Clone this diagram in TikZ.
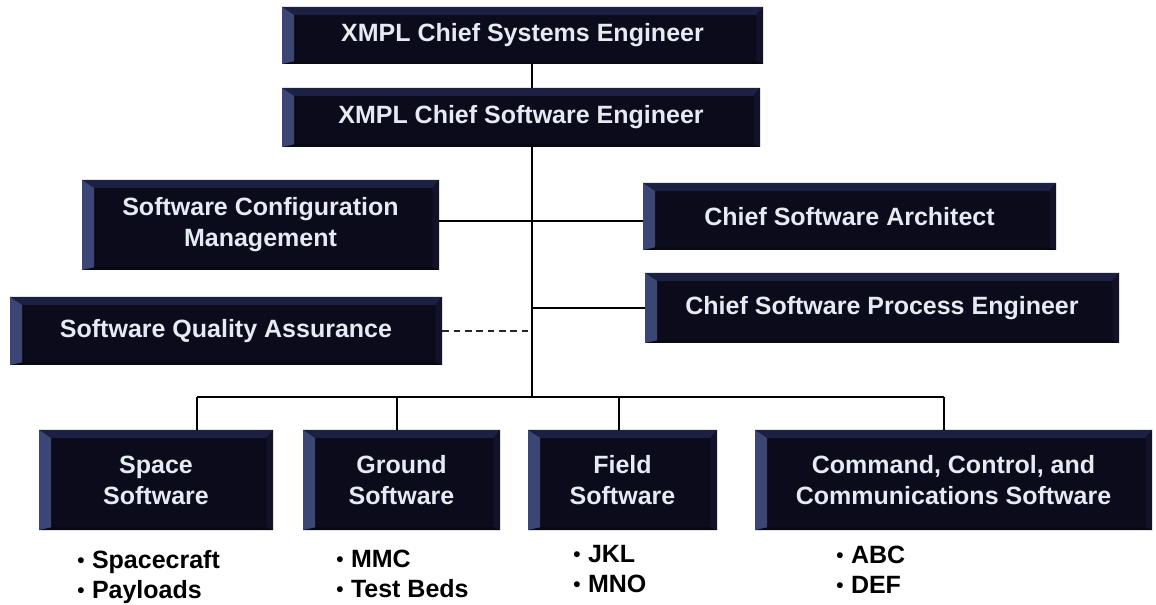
\documentclass[tikz,border=0pt]{standalone}
\usepackage{fontspec}
\setmainfont{Liberation Sans}
\definecolor{boxfill}{HTML}{0B0B1C}
\definecolor{bevleft}{HTML}{3C4674}
\definecolor{bevtop}{HTML}{1C2042}
\definecolor{bevright}{HTML}{121228}
\definecolor{bevbottom}{HTML}{08080F}
\definecolor{boxtext}{HTML}{E6EAF2}
\tikzset{
  orgbox/.style={fill=boxfill, text=boxtext, align=center, inner sep=0pt,
    font=\bfseries\fontsize{18.75}{23.25}\selectfont,
    path picture={
      \coordinate (nw) at (path picture bounding box.north west);
      \coordinate (ne) at (path picture bounding box.north east);
      \coordinate (sw) at (path picture bounding box.south west);
      \coordinate (se) at (path picture bounding box.south east);
      \fill[bevtop] (nw) -- (ne) -- ([xshift=-5pt,yshift=-6pt]ne) -- ([xshift=9pt,yshift=-6pt]nw) -- cycle;
      \fill[bevright] (ne) -- (se) -- ([xshift=-5pt,yshift=2pt]se) -- ([xshift=-5pt,yshift=-6pt]ne) -- cycle;
      \fill[bevbottom] (sw) -- (se) -- ([xshift=-5pt,yshift=2pt]se) -- ([xshift=9pt,yshift=2pt]sw) -- cycle;
      \fill[bevleft] (nw) -- (sw) -- ([xshift=9pt,yshift=2pt]sw) -- ([xshift=9pt,yshift=-6pt]nw) -- cycle;
    }},
  conn/.style={line width=2.1pt, black},
  dashconn/.style={line width=1.8pt, black!85, dash pattern=on 5pt off 3.5pt},
  itemlist/.style={anchor=west, align=left, inner sep=0pt, text=black,
    font=\bfseries\fontsize{18.75}{22.5}\selectfont}
}
\newcommand\bul{\raisebox{0.8pt}{\fontsize{15.5}{15.5}\selectfont•}\hspace{0.3em}}
\newcommand\orgbox[6]{\node[orgbox, minimum width={(#4-#2)*0.75pt}, minimum height={(#5-#3)*0.75pt}] (#1) at ({(#2+#4)/2},{(#3+#5)/2}) {#6};}
\begin{document}
\begin{tikzpicture}[x=0.75pt, y=-0.75pt]
\fill[white] (0,0) rectangle (1156,605);
\useasboundingbox (0,0) rectangle (1156,605);

\orgbox{cse}{282}{7}{763}{64}{XMPL Chief Systems Engineer}
\orgbox{csw}{282}{88}{760}{147}{XMPL Chief Software Engineer}
\orgbox{scm}{82}{180}{439}{270}{Software Configuration\\Management}
\orgbox{sqa}{10}{297}{442}{365}{Software Quality Assurance}
\orgbox{csa}{643}{183}{1056}{250}{Chief Software Architect}
\orgbox{cspe}{645}{273}{1119}{343}{Chief Software Process Engineer}
\orgbox{space}{39}{430}{273}{530}{Space\\Software}
\orgbox{ground}{303}{430}{500}{530}{Ground\\Software}
\orgbox{field}{528}{430}{717}{530}{Field\\Software}
\orgbox{ccc}{755}{430}{1152}{530}{Command, Control, and\\Communications Software}

\coordinate (spine) at (532,0);
\coordinate (j1) at (532,221);
\coordinate (d1) at (197,397);
\coordinate (d2) at (397,397);
\coordinate (d3) at (619,397);
\coordinate (d4) at (944,397);

\draw[conn] (cse.south -| spine) -- (csw.north -| spine);
\draw[conn] (csw.south -| spine) -- (spine |- d1);
\draw[conn] (scm.east |- j1) -- (j1) -- (csa.west |- j1);
\draw[conn] (cspe.west) -- (cspe.west -| spine);
\draw[dashconn] (sqa.east) -- (sqa.east -| spine);
\draw[conn] (d1) -- (d4);
\draw[conn] (d1) -- (d1 |- space.north);
\draw[conn] (d2) -- (d2 |- ground.north);
\draw[conn] (d3) -- (d3 |- field.north);
\draw[conn] (d4) -- (d4 |- ccc.north);

\node[itemlist] (l1) at (77,577) {\bul Spacecraft\\\bul Payloads};
\node[itemlist] (l2) at (336,574) {\bul MMC\\\bul Test Beds};
\node[itemlist] (l3) at (573,569) {\bul JKL\\\bul MNO};
\node[itemlist] (l4) at (836,570) {\bul ABC\\\bul DEF};
\end{tikzpicture}
\end{document}
